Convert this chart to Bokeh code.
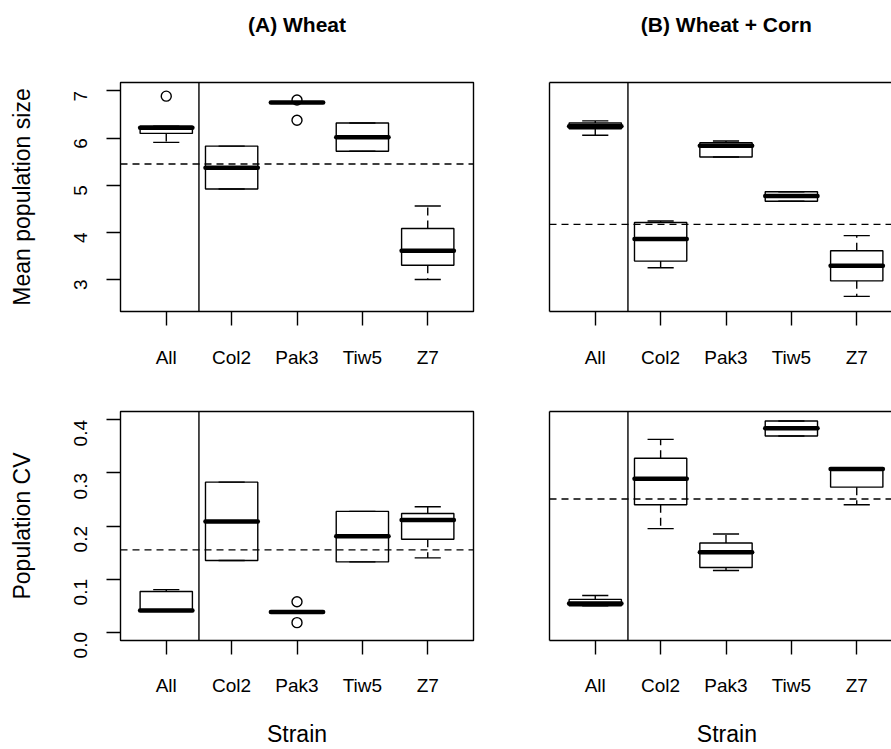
import math
from bokeh.plotting import figure
from bokeh.models import Span, FixedTicker, LinearAxis, Range1d, PrintfTickFormatter
from bokeh.layouts import row, column
from bokeh.embed import file_html
from bokeh.resources import INLINE

FONT = "Liberation Sans"

strains = ["All", "Col2", "Pak3", "Tiw5", "Z7"]
positions = [1, 2, 3, 4, 5]

# (A) Wheat - mean population size
a_size_low = [5.91, 4.92, 6.75, 5.72, 3.00]
a_size_q1 = [6.10, 4.92, 6.75, 5.72, 3.30]
a_size_med = [6.22, 5.37, 6.755, 6.02, 3.61]
a_size_q3 = [6.25, 5.83, 6.76, 6.32, 4.08]
a_size_high = [6.25, 5.83, 6.76, 6.32, 4.56]
a_size_out_strain = ["All", "Pak3", "Pak3"]
a_size_out_val = [6.89, 6.81, 6.38]
a_size_ref = 5.45

# (B) Wheat + Corn - mean population size
b_size_low = [6.06, 3.25, 5.60, 4.66, 2.64]
b_size_q1 = [6.20, 3.39, 5.60, 4.66, 2.97]
b_size_med = [6.25, 3.86, 5.84, 4.77, 3.29]
b_size_q3 = [6.32, 4.21, 5.90, 4.86, 3.61]
b_size_high = [6.365, 4.24, 5.94, 4.86, 3.93]
b_size_out_strain = []
b_size_out_val = []
b_size_ref = 4.17

# (A) Wheat - population CV
a_cv_low = [0.0408, 0.1348, 0.0376, 0.1323, 0.1398]
a_cv_q1 = [0.0408, 0.1348, 0.0376, 0.1323, 0.1749]
a_cv_med = [0.0408, 0.2087, 0.0376, 0.1805, 0.2113]
a_cv_q3 = [0.0765, 0.2827, 0.0376, 0.2275, 0.2237]
a_cv_high = [0.0800, 0.2827, 0.0376, 0.2275, 0.2363]
a_cv_out_strain = ["Pak3", "Pak3"]
a_cv_out_val = [0.057, 0.0177]
a_cv_ref = 0.155

# (B) Wheat + Corn - population CV
b_cv_low = [0.0496, 0.195, 0.116, 0.3697, 0.240]
b_cv_q1 = [0.0496, 0.240, 0.1216, 0.3697, 0.2733]
b_cv_med = [0.054, 0.2889, 0.1504, 0.3842, 0.3077]
b_cv_q3 = [0.0615, 0.3278, 0.168, 0.398, 0.3077]
b_cv_high = [0.069, 0.3635, 0.185, 0.398, 0.3077]
b_cv_out_strain = []
b_cv_out_val = []
b_cv_ref = 0.2508

size_lim = (2.5, 7.0)
size_ticks = [3, 4, 5, 6, 7]
cv_lim = (0.0, 0.4)
cv_ticks = [0.0, 0.1, 0.2, 0.3, 0.4]
separator_at = 1.5

titles = ["(A) Wheat", "(B) Wheat + Corn"]
ylabels = ["Mean population size", "Population CV"]
xlabel = "Strain"

BOX_W = 0.8
CAP_W = 0.4
LW = 1.4
PANEL_W = 353  # full panel width in pixels (right panels are cut by the window edge)
NBSP = "\u00a0"


def make_panel(low, q1, med, q3, high, out_strain, out_val, ref, ylim, yticks, yfmt,
               is_left, is_top, title, ylabel):
    px_per_unit = PANEL_W / 5.4
    if is_left:
        width, mb_left, mb_right = 511, 120, 38
        x_end = 5.7
        shift = ""
    else:
        width, mb_left, mb_right = 380, 38, 0
        x_end = 0.3 + 342 / px_per_unit
        shift = NBSP * 2  # re-centre texts on the full (cut) panel
    if is_top:
        height, mb_top, mb_bottom = 380, 82, 69
    else:
        height, mb_top, mb_bottom = 369, 31, 109
    lo, hi = ylim
    pad = 0.04 * (hi - lo)
    p = figure(width=width, height=height, output_backend="svg", toolbar_location=None,
               x_range=Range1d(0.3, x_end), y_range=Range1d(lo - pad, hi + pad),
               min_border_left=mb_left, min_border_right=mb_right,
               min_border_top=mb_top, min_border_bottom=mb_bottom,
               background_fill_color="white", border_fill_color="white")
    p.grid.visible = False
    p.xaxis.ticker = FixedTicker(ticks=positions)
    p.xaxis.major_label_overrides = {pos: s for pos, s in zip(positions, strains)}
    for ax in [p.xaxis[0], p.yaxis[0]]:
        ax.major_tick_out = 14
        ax.major_tick_in = 0
        ax.minor_tick_out = 0
        ax.minor_tick_in = 0
        ax.major_tick_line_color = "black"
        ax.major_tick_line_width = LW
        ax.major_label_text_font = FONT
        ax.major_label_text_font_size = "19px"
        ax.major_label_text_color = "black"
        ax.axis_label_text_font = FONT
        ax.axis_label_text_font_size = "23px"
        ax.axis_label_text_font_style = "normal"
        ax.axis_label_text_color = "black"
    p.xaxis.axis_line_color = "black" if not is_left else None
    p.xaxis.axis_line_width = LW
    if is_top:
        p.xaxis.major_label_standoff = 21
    else:
        p.xaxis.major_label_standoff = 20
        p.xaxis.axis_label = shift + xlabel
        p.xaxis.axis_label_standoff = 22
    if is_left:
        p.outline_line_color = "black"
        p.outline_line_width = LW
        p.yaxis.ticker = FixedTicker(ticks=yticks)
        p.yaxis.formatter = PrintfTickFormatter(format=yfmt)
        p.yaxis.major_label_orientation = math.pi / 2
        p.yaxis.axis_line_color = None
        p.yaxis.axis_label = ylabel
        p.yaxis.axis_label_standoff = 30
        p.yaxis.major_label_standoff = 26
    else:
        p.outline_line_color = None
        p.yaxis.ticker = FixedTicker(ticks=[])
        p.yaxis.major_tick_out = 0
        p.yaxis.axis_line_color = "black"
        p.yaxis.axis_line_width = LW

    if is_top or not is_left:
        top_axis = LinearAxis(ticker=FixedTicker(ticks=[]), major_tick_out=0, major_tick_in=0,
                              minor_tick_out=0, minor_tick_in=0, major_label_standoff=0,
                              axis_line_color=None if is_left else "black",
                              axis_line_width=LW)
        if is_top:
            top_axis.axis_label = shift + title
            top_axis.axis_label_standoff = 47
            top_axis.axis_label_text_font = FONT
            top_axis.axis_label_text_font_size = "21px"
            top_axis.axis_label_text_font_style = "bold"
            top_axis.axis_label_text_color = "black"
        p.add_layout(top_axis, "above")

    p.add_layout(Span(location=separator_at, dimension="height", line_color="black", line_width=LW))
    p.add_layout(Span(location=ref, dimension="width", line_color="black", line_width=LW,
                      line_dash="7 5"))

    # whiskers
    p.segment(x0=positions, y0=q3, x1=positions, y1=high, line_color="black", line_width=LW,
              line_dash="8 5")
    p.segment(x0=positions, y0=q1, x1=positions, y1=low, line_color="black", line_width=LW,
              line_dash="8 5")
    cap_l = [x - CAP_W / 2 for x in positions]
    cap_r = [x + CAP_W / 2 for x in positions]
    p.segment(x0=cap_l, y0=high, x1=cap_r, y1=high, line_color="black", line_width=LW)
    p.segment(x0=cap_l, y0=low, x1=cap_r, y1=low, line_color="black", line_width=LW)
    # boxes
    p.vbar(x=positions, width=BOX_W, bottom=q1, top=q3, fill_color=None,
           line_color="black", line_width=LW)
    # medians
    med_l = [x - BOX_W / 2 for x in positions]
    med_r = [x + BOX_W / 2 for x in positions]
    p.segment(x0=med_l, y0=med, x1=med_r, y1=med, line_color="black", line_width=4.5,
              line_cap="round")
    # outliers
    if out_strain:
        ox = [positions[strains.index(s)] for s in out_strain]
        p.scatter(x=ox, y=out_val, marker="circle", size=10, fill_color=None,
                  line_color="black", line_width=LW)
    return p


p1 = make_panel(a_size_low, a_size_q1, a_size_med, a_size_q3, a_size_high,
                a_size_out_strain, a_size_out_val, a_size_ref, size_lim, size_ticks, "%d",
                True, True, titles[0], ylabels[0])
p2 = make_panel(b_size_low, b_size_q1, b_size_med, b_size_q3, b_size_high,
                b_size_out_strain, b_size_out_val, b_size_ref, size_lim, size_ticks, "%d",
                False, True, titles[1], ylabels[0])
p3 = make_panel(a_cv_low, a_cv_q1, a_cv_med, a_cv_q3, a_cv_high,
                a_cv_out_strain, a_cv_out_val, a_cv_ref, cv_lim, cv_ticks, "%.1f",
                True, False, None, ylabels[1])
p4 = make_panel(b_cv_low, b_cv_q1, b_cv_med, b_cv_q3, b_cv_high,
                b_cv_out_strain, b_cv_out_val, b_cv_ref, cv_lim, cv_ticks, "%.1f",
                False, False, None, ylabels[1])

layout = column(row(p1, p2), row(p3, p4))
open("out.html", "w").write(file_html(layout, INLINE))
